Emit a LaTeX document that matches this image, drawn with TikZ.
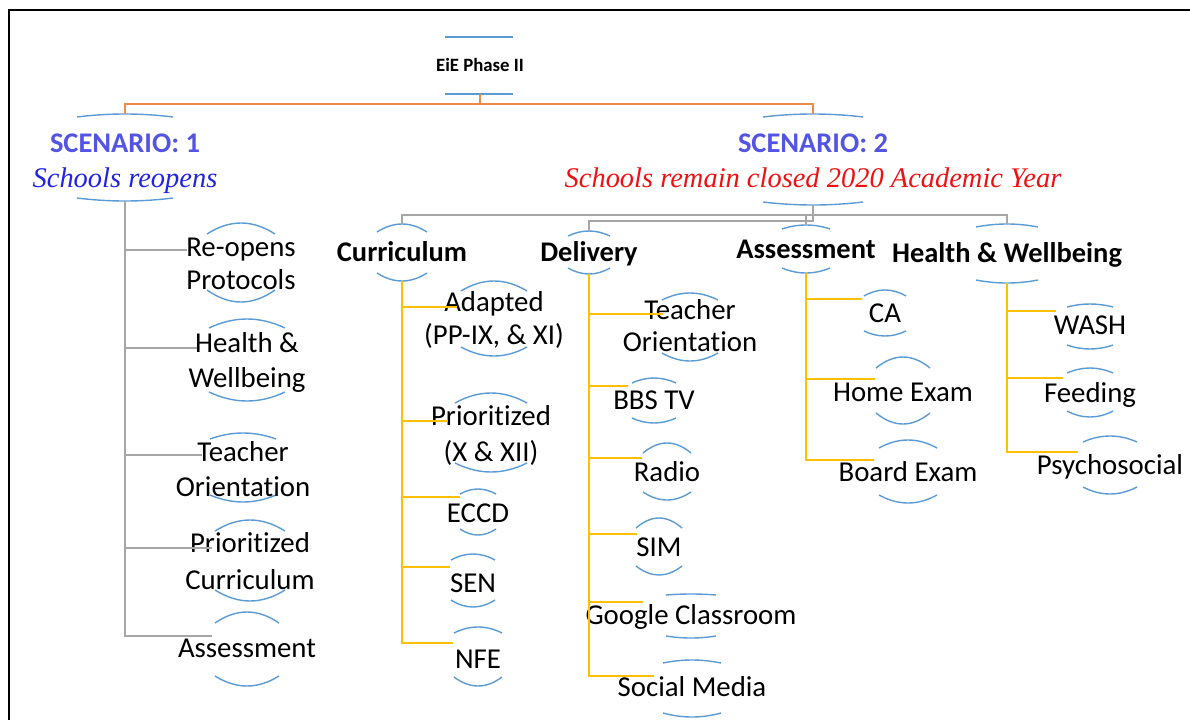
\documentclass[tikz,border=0pt]{standalone}
\usepackage{fontspec}
\setmainfont{Carlito}[Ligatures=NoCommon]
\newfontfamily\timesit{Liberation Serif}
\definecolor{arcblue}{HTML}{5B9BD5}
\definecolor{lngray}{HTML}{A6A6A6}
\definecolor{lnyellow}{HTML}{FFC000}
\definecolor{lnorange}{HTML}{F08A4B}
\definecolor{scenblue}{HTML}{5454E4}
\definecolor{itblue}{HTML}{2222E2}
\definecolor{itred}{HTML}{EE1111}
% cx, half width, top peak y, top sag, bottom peak y, bottom sag
\newcommand\twoarcs[6]{%
  \draw[arcst] (#1-#2,#3+#4) .. controls (#1-#2/3,#3-#4/3) and (#1+#2/3,#3-#4/3) .. (#1+#2,#3+#4);
  \draw[arcst] (#1-#2,#5-#6) .. controls (#1-#2/3,#5+#6/3) and (#1+#2/3,#5+#6/3) .. (#1+#2,#5-#6);}
\newcommand\tl[4]{\node[txt] (#1) at (#2,#3+9.3) {#4};}
\newcommand\hl[4]{\node[hdr] (#1) at (#2,#3+9.2) {#4};}
\begin{document}
\begin{tikzpicture}[x=0.02cm,y=-0.02cm,
  arcst/.style={draw=arcblue, line width=0.8pt},
  grayln/.style={draw=lngray, line width=1pt},
  yelln/.style={draw=lnyellow, line width=1.1pt},
  orln/.style={draw=lnorange, line width=1.1pt},
  txt/.style={anchor=base, inner sep=0pt, font=\fontsize{16.4}{19.5}\selectfont},
  hdr/.style={anchor=base, inner sep=0pt, font=\fontsize{16.2}{19.5}\selectfont\bfseries},
  scen/.style={anchor=base, inner sep=0pt, text=scenblue, font=\fontsize{16.2}{19.5}\selectfont\bfseries},
  itl/.style={anchor=base, inner sep=0pt, font=\fontsize{16.2}{19.5}\selectfont\timesit\itshape}]
\useasboundingbox (0,0) rectangle (1190,720);
% frame
\draw[line width=1.2pt] (9,720) -- (9,10) -- (1190,10);

% ---------- root ----------
\node[anchor=base, inner sep=0pt, font=\fontsize{10.7}{13}\selectfont\bfseries] (root) at (480,71.1) {EiE Phase II};
\draw[arcst] (445,37) -- (513,37);
\draw[arcst] (445,94) -- (513,94);
\coordinate (root-b) at (480,94);
\coordinate (rootj) at (480,104);

% ---------- scenarios ----------
\coordinate (s1-t) at (125,114);
\coordinate (s1-b) at (125,201);
\twoarcs{125}{48}{114}{3}{201}{3}
\node[scen] (s1a) at (125,143+9.2) {SCENARIO: 1};
\node[itl, text=itblue] (s1b) at (125,178+9.5) {Schools reopens};

\coordinate (s2-t) at (813,114);
\coordinate (s2-b) at (813,205);
\twoarcs{813}{50}{114}{3}{205}{3}
\node[scen] (s2a) at (813,143+9.2) {SCENARIO: 2};
\node[itl, text=itred] (s2b) at (813,178+9.5) {Schools remain closed 2020 Academic Year};

\draw[orln] (root-b) -- (rootj) -| (s1-t);
\draw[orln] (rootj) -| (s2-t);

% ---------- scenario 1 children ----------
\twoarcs{241}{34}{223}{11}{302}{12}
\tl{rp1}{241}{247}{Re-opens}
\tl{rp2}{241}{280}{Protocols}
\coordinate (rp-c) at (187,250);

\twoarcs{247}{38}{319}{9}{401}{9}
\tl{hw1}{247}{343}{Health \&}
\tl{hw2}{247}{378}{Wellbeing}
\coordinate (hw-c) at (197,348);

\twoarcs{243}{33}{433}{6}{502}{7}
\tl{to1}{243}{452}{Teacher}
\tl{to2}{243}{487}{Orientation}
\coordinate (to-c) at (202,455);

\twoarcs{250}{35}{520}{11}{601}{11}
\tl{pc1}{250}{543}{Prioritized}
\tl{pc2}{250}{580}{Curriculum}
\coordinate (pc-c) at (212,548);

\twoarcs{247}{32}{612}{11}{686}{10}
\tl{as1}{247}{648}{Assessment}
\coordinate (as-c) at (212,636);

\foreach \c in {rp-c,hw-c,to-c,pc-c,as-c} \draw[grayln] (s1-b) |- (\c);

% ---------- scenario 2 headers ----------
\twoarcs{402}{25}{224}{8}{281}{8}
\hl{cu}{402}{252}{Curriculum}
\coordinate (cu-t) at (402,224);
\coordinate (cu-b) at (402,281);

\twoarcs{589}{21}{231}{5}{274}{6}
\hl{de}{589}{252}{Delivery}
\coordinate (de-t) at (589,231);
\coordinate (de-b) at (589,274);

\twoarcs{806}{24}{225}{4}{273}{5}
\hl{asm}{806}{249}{Assessment}
\coordinate (asm-t) at (806,225);
\coordinate (asm-b) at (806,273);

\twoarcs{1007}{31}{224}{3}{283}{3}
\hl{hwb}{1007}{253}{Health \& Wellbeing}
\coordinate (hwb-t) at (1007,224);
\coordinate (hwb-b) at (1007,283);

\coordinate (s2jA) at (813,215);
\coordinate (s2jB) at (813,221);
\draw[grayln] (cu-t) |- (s2jA) -| (hwb-t);
\draw[grayln] (s2-b) -- (s2jB) -| (de-t);
\draw[grayln] (s2jA -| asm-t) -- (asm-t);

% ---------- curriculum children ----------
\twoarcs{494}{33}{281}{10}{356}{9}
\tl{ad1}{494}{302}{Adapted}
\tl{ad2}{494}{335}{(PP-IX, \& XI)}
\coordinate (ad-c) at (457,307);

\twoarcs{491}{36}{393}{10}{472}{9}
\tl{pr1}{491}{416}{Prioritized}
\tl{pr2}{491}{452}{(X \& XII)}
\coordinate (pr-c) at (448,421);

\twoarcs{478}{18}{489}{5}{535}{6}
\tl{ec}{478}{513}{ECCD}
\coordinate (ec-c) at (460,497);

\twoarcs{473}{22}{554}{6}{607}{7}
\tl{se}{473}{583}{SEN}
\coordinate (se-c) at (450,567);

\twoarcs{478}{24}{627}{6}{686}{9}
\tl{nf}{478}{659}{NFE}
\coordinate (nf-c) at (453,643);

\foreach \c in {ad-c,pr-c,ec-c,se-c,nf-c} \draw[yelln] (cu-b) |- (\c);

% ---------- delivery children ----------
\twoarcs{690}{28}{293}{7}{361}{8}
\tl{dt1}{690}{310}{Teacher}
\tl{dt2}{690}{342}{Orientation}
\coordinate (dt-c) at (663,314);

\twoarcs{654}{22}{378}{5}{423}{5}
\tl{bb}{654}{400}{BBS TV}
\coordinate (bb-c) at (628,386);

\twoarcs{667}{24}{443}{10}{500}{8}
\tl{ra}{667}{472}{Radio}
\coordinate (ra-c) at (642,458);

\twoarcs{659}{23}{518}{10}{575}{9}
\tl{si}{659}{547}{SIM}
\coordinate (si-c) at (637,534);

\twoarcs{691}{25}{594}{1}{638}{2}
\tl{gc}{691}{615}{Google Classroom}
\coordinate (gc-c) at (643,602);

\twoarcs{692}{29}{660}{3}{717}{4}
\tl{sm}{692}{687}{Social Media}
\coordinate (sm-c) at (654,676);

\foreach \c in {dt-c,bb-c,ra-c,si-c,gc-c,sm-c} \draw[yelln] (de-b) |- (\c);

% ---------- assessment children ----------
\twoarcs{885}{21}{290}{6}{336}{5}
\tl{ca}{885}{313}{CA}
\coordinate (ca-c) at (862,299);

\twoarcs{903}{27}{357}{11}{424}{11}
\tl{he}{903}{392}{Home Exam}
\coordinate (he-c) at (875,379);

\twoarcs{908}{29}{440}{8}{503}{8}
\tl{be}{908}{472}{Board Exam}
\coordinate (be-c) at (874,460);

\foreach \c in {ca-c,he-c,be-c} \draw[yelln] (asm-b) |- (\c);

% ---------- health & wellbeing children ----------
\twoarcs{1090}{23}{304}{3}{349}{4}
\tl{wa}{1090}{325}{WASH}
\coordinate (wa-c) at (1056,311);

\twoarcs{1090}{23}{368}{5}{417}{6}
\tl{fe}{1090}{393}{Feeding}
\coordinate (fe-c) at (1063,378);

\twoarcs{1110}{27}{436}{6}{494}{7}
\tl{ps}{1110}{465}{Psychosocial}
\coordinate (ps-c) at (1078,452);

\foreach \c in {wa-c,fe-c,ps-c} \draw[yelln] (hwb-b) |- (\c);
\end{tikzpicture}
\end{document}
